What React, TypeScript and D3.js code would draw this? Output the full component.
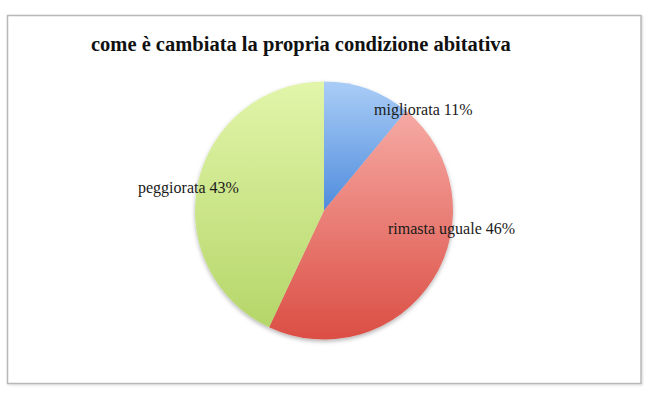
import React from "react";
import * as d3 from "d3";

const categories = ["migliorata", "rimasta uguale", "peggiorata"];
const values = [11, 46, 43];
const labels = ["migliorata 11%", "rimasta uguale 46%", "peggiorata 43%"];
const title = "come è cambiata la propria condizione abitativa";

const gradTop = ["#aacdf7", "#f6aaa4", "#e2f5aa"];
const gradBottom = ["#4f8cdc", "#db4e44", "#b5d669"];

const W = 650;
const H = 399;
const cx = 324;
const cy = 210.5;
const R = 129;

const labelPos: [number, number][] = [
  [374, 115],
  [388, 234],
  [138, 193],
];

export default function App() {
  const pie = d3
    .pie<number>()
    .sort(null)
    .value((d) => d);
  const arcs = pie(values);
  const arcGen = d3.arc<d3.PieArcDatum<number>>().innerRadius(0).outerRadius(R);

  return (
    <svg
      width={W}
      height={H}
      style={{ position: "absolute", left: 0, top: 0, background: "#fff" }}
    >
      <defs>
        {categories.map((c, i) => (
          <linearGradient key={c} id={`g${i}`} x1="0" y1="0" x2="0" y2="1">
            <stop offset="0%" stopColor={gradTop[i]} />
            <stop offset="100%" stopColor={gradBottom[i]} />
          </linearGradient>
        ))}
        <filter id="sh" x="-20%" y="-20%" width="140%" height="140%">
          <feDropShadow dx="0" dy="2" stdDeviation="2" floodColor="#000" floodOpacity="0.3" />
        </filter>
        <filter id="fsh" x="-5%" y="-5%" width="110%" height="110%">
          <feDropShadow dx="1" dy="1" stdDeviation="1" floodColor="#000" floodOpacity="0.15" />
        </filter>
      </defs>
      <rect
        x={7.5}
        y={15.5}
        width={633.5}
        height={368}
        fill="#fff"
        stroke="#b8b8b8"
        strokeWidth={1.5}
        filter="url(#fsh)"
      />
      <text
        x={91}
        y={51}
        fontFamily="'Liberation Serif', 'Times New Roman', serif"
        fontWeight="bold"
        fontSize={20.5}
        fill="#111"
      >
        {title}
      </text>
      <g transform={`translate(${cx},${cy})`} filter="url(#sh)">
        {arcs.map((a, i) => (
          <path key={categories[i]} d={arcGen(a) || ""} fill={`url(#g${i})`} />
        ))}
      </g>
      {labels.map((l, i) => (
        <text
          key={l}
          x={labelPos[i][0]}
          y={labelPos[i][1]}
          fontFamily="'Liberation Serif', 'Times New Roman', serif"
          fontSize={16}
          fill="#1a1a1a"
        >
          {l}
        </text>
      ))}
    </svg>
  );
}
